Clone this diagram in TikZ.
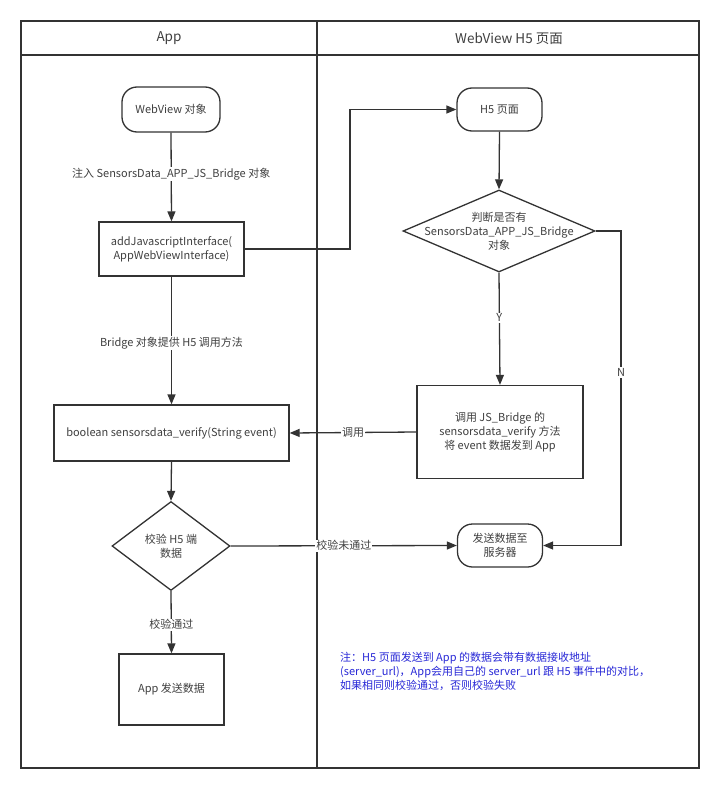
\documentclass[tikz,border=0pt]{standalone}
\usepackage{fontspec}
\setmainfont{Noto Sans CJK SC}
\usetikzlibrary{shapes.geometric,arrows.meta}
\definecolor{ln}{RGB}{51,51,51}
\definecolor{tx}{RGB}{64,64,64}
\definecolor{notec}{RGB}{40,40,215}
\begin{document}
\begin{tikzpicture}[x=1pt,y=-1pt,
  txt/.style={text=tx, font=\fontsize{11}{14}\selectfont, align=center},
  base/.style={txt, draw=ln, line width=1.3pt, inner sep=2pt},
  term/.style={base, rectangle, rounded corners=15pt},
  boxn/.style={base, rectangle},
  dia/.style={base, diamond, inner sep=0pt},
  con/.style={draw=ln, line width=1.3pt},
  arr/.style={con, -{Triangle[length=10pt,width=8pt]}},
  lbl/.style={txt, fill=white, inner sep=1pt},
  head/.style={txt, font=\fontsize{13.5}{16}\selectfont}
]
\useasboundingbox (0,0) rectangle (720,789);
\fill[white] (0,0) rectangle (720,789);

% swimlane frame
\draw[con] (21,21) rectangle (699,768);
\draw[con] (21,55) -- (699,55);
\draw[con] (317,21) -- (317,768);
\node[head] (hA) at (169,38.5) {App};
\node[head] (hB) at (509,38.5) {WebView H5 页面};

% nodes
\node[term, minimum width=98pt, minimum height=45pt] (wv) at (171,109.5) {WebView 对象};
\node[boxn, minimum width=145pt, minimum height=54pt] (add) at (171.5,249) {addJavascriptInterface(\\AppWebViewInterface)};
\node[boxn, minimum width=235pt, minimum height=56pt] (ver) at (171.5,433) {boolean sensorsdata\_verify(String event)};
\node[dia, minimum width=118pt, minimum height=89pt,
  label={[txt]center:{校验 H5 端\\数据}}] (chk) at (171,546) {};
\node[boxn, minimum width=105pt, minimum height=71pt] (aps) at (171.5,689.5) {App 发送数据};

\node[term, minimum width=85pt, minimum height=43pt] (h5) at (499.5,109.5) {H5 页面};
\node[dia, minimum width=192pt, minimum height=82pt,
  label={[txt]center:{判断是否有\\SensorsData\_APP\_JS\_Bridge\\对象}}] (dec) at (499,231) {};
\node[boxn, minimum width=166pt, minimum height=93pt] (call) at (500,432) {调用 JS\_Bridge 的\\sensorsdata\_verify 方法\\将 event 数据发到 App};
\node[term, minimum width=85pt, minimum height=43pt] (send) at (500,545.5) {发送数据至\\服务器};

\node[txt, text=notec, anchor=north west, align=left, inner sep=0pt] (note) at (340,652)
  {注：H5 页面发送到 App 的数据会带有数据接收地址\\(server\_url)，App会用自己的 server\_url 跟 H5 事件中的对比，\\如果相同则校验通过，否则校验失败};

% helper corners
\coordinate (j1) at (350,249);
\coordinate (n1) at (621,231);
\coordinate (n2) at (621,545.5);

% connectors
\draw[arr] (wv.south) -- node[lbl, pos=0.467] (l1) {注入 SensorsData\_APP\_JS\_Bridge 对象} (add.north);
\draw[arr] (add.east) -- (j1) |- (h5.west);
\draw[arr] (add.south) -- node[lbl, pos=0.52] (l2) {Bridge 对象提供 H5 调用方法} (ver.north);
\draw[arr] (h5.south) -- (dec.north);
\draw[arr] (dec.south) -- node[lbl, pos=0.40] (lY) {Y} (call.north);
\draw[arr] (dec.east) -- (n1) -- node[lbl, pos=0.45] (lN) {N} (n2) -- (send.east);
\draw[arr] (call.west) -- node[lbl, pos=0.5] (l3) {调用} (ver.east);
\draw[arr] (ver.south) -- (chk.north);
\draw[arr] (chk.east) -- node[lbl, pos=0.5] (l4) {校验未通过} (send.west);
\draw[arr] (chk.south) -- node[lbl, pos=0.54] (l5) {校验通过} (aps.north);
\end{tikzpicture}
\end{document}
